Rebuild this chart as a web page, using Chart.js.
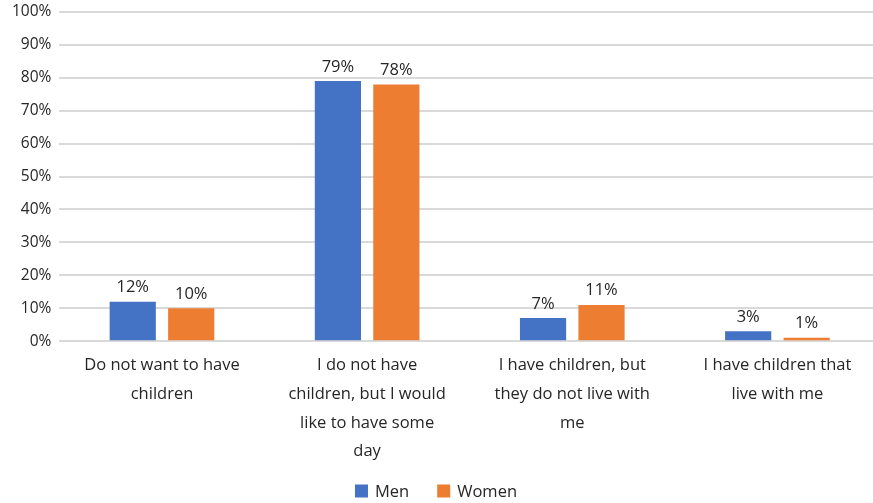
<!DOCTYPE html>
<html>
<head>
<meta charset="utf-8">
<style>
  html, body { margin: 0; padding: 0; background: #fff; overflow: hidden; }
  #wrap { width: 880px; height: 503px; }
</style>
<script src="https://cdn.jsdelivr.net/npm/chart.js@4.4.1/dist/chart.umd.min.js"></script>
</head>
<body>
<div id="wrap"><canvas id="chart"></canvas></div>
<script>
const categories = [
  ["Do not want to have", "children"],
  ["I do not have", "children, but I would", "like to have some", "day"],
  ["I have children, but", "they do not live with", "me"],
  ["I have children that", "live with me"]
];
const menValues = [12, 79, 7, 3];
const womenValues = [10, 78, 11, 1];
const yTicks = [0, 10, 20, 30, 40, 50, 60, 70, 80, 90, 100];

const FONT = "'Open Sans', 'Liberation Sans', sans-serif";
const TEXT = "#262626";

// value labels over each bar
const barLabels = {
  id: "barLabels",
  afterDatasetsDraw(chart) {
    const ctx = chart.ctx;
    ctx.save();
    ctx.font = "16.5px " + FONT;
    ctx.fillStyle = TEXT;
    ctx.textAlign = "center";
    ctx.textBaseline = "bottom";
    chart.data.datasets.forEach((ds, i) => {
      chart.getDatasetMeta(i).data.forEach((bar, j) => {
        ctx.fillText(ds.data[j] + "%", bar.x, bar.y - 6);
      });
    });
    ctx.restore();
  }
};

// single-row legend at the bottom, wider gap between entries than the built-in one
const legendRow = {
  id: "legendRow",
  afterDraw(chart) {
    const ctx = chart.ctx;
    ctx.save();
    ctx.font = "16.5px " + FONT;
    ctx.textBaseline = "middle";
    const box = 13, gap = 7, spacing = 28;
    const items = chart.data.datasets.map(ds => ({
      text: ds.label,
      color: ds.backgroundColor,
      w: box + gap + ctx.measureText(ds.label).width
    }));
    const total = items.reduce((s, it) => s + it.w, 0) + spacing * (items.length - 1);
    let x = 436 - total / 2;
    const y = chart.height - 12;
    items.forEach(it => {
      ctx.fillStyle = it.color;
      ctx.fillRect(x, y - box / 2, box, box);
      ctx.fillStyle = TEXT;
      ctx.fillText(it.text, x + box + gap, y + 1);
      x += it.w + spacing;
    });
    ctx.restore();
  }
};

new Chart(document.getElementById("chart"), {
  type: "bar",
  data: {
    labels: categories,
    datasets: [
      { label: "Men", data: menValues, backgroundColor: "#4472C4" },
      { label: "Women", data: womenValues, backgroundColor: "#ED7D31" }
    ]
  },
  options: {
    responsive: true,
    maintainAspectRatio: false,
    animation: false,
    layout: { padding: { top: 12, right: 0, left: 4, bottom: 35 } },
    datasets: { bar: { categoryPercentage: 0.57, barPercentage: 0.79 } },
    scales: {
      x: {
        grid: { display: false },
        border: { display: false },
        ticks: {
          color: TEXT,
          font: { family: FONT, size: 16.5, lineHeight: 1.74 },
          maxRotation: 0,
          autoSkip: false,
          padding: 2
        }
      },
      y: {
        min: 0,
        max: 100,
        afterBuildTicks(axis) {
          axis.ticks = yTicks.map(v => ({ value: v }));
        },
        afterFit(axis) {
          axis.paddingTop = 0;
        },
        grid: { color: "#d9d9d9", lineWidth: 2, drawTicks: false },
        border: { display: false },
        ticks: {
          color: TEXT,
          font: { family: FONT, size: 15.5 },
          padding: 8,
          callback: v => v + "%"
        }
      }
    },
    plugins: {
      legend: { display: false },
      tooltip: { enabled: false }
    }
  },
  plugins: [barLabels, legendRow]
});
</script>
</body>
</html>
